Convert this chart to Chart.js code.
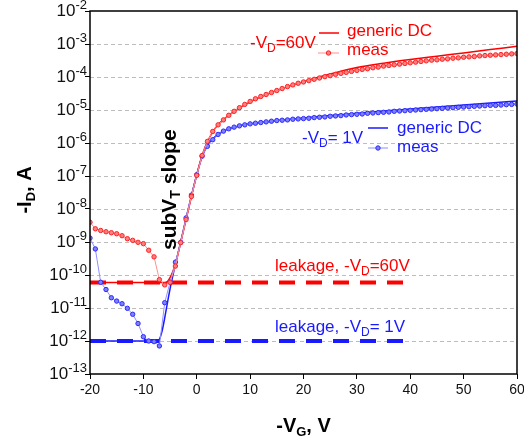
<!DOCTYPE html>
<html>
<head>
<meta charset="utf-8">
<script src="https://cdn.jsdelivr.net/npm/chart.js@4.4.1/dist/chart.umd.min.js"></script>
<style>
  html, body { margin: 0; padding: 0; background: #fff; }
  #wrap { width: 524px; height: 441px; }
</style>
</head>
<body>
<div id="wrap"><canvas id="chart" width="524" height="441"></canvas></div>
<script>
// -V_G of the measured points, volts
const vgMeas = [-20, -19, -18, -17, -16, -15, -14, -13, -12, -11, -10, -9, -8, -7, -6, -5, -4, -3, -2, -1,
  0, 1, 2, 3, 4, 5, 6, 7, 8, 9, 10, 11, 12, 13, 14, 15, 16, 17, 18, 19,
  20, 21, 22, 23, 24, 25, 26, 27, 28, 29, 30, 31, 32, 33, 34, 35, 36, 37, 38, 39,
  40, 41, 42, 43, 44, 45, 46, 47, 48, 49, 50, 51, 52, 53, 54, 55, 56, 57, 58, 59, 60];

// log10(-I_D) measured, -V_D = 60V
const logMeas60 = [-8.40, -8.60, -8.65, -8.69, -8.72, -8.75, -8.81, -8.90, -8.95, -9.01, -9.05, -9.25, -9.45, -10.14, -10.30, -10.22, -9.73, -9.02, -8.32, -7.62,
  -6.98, -6.38, -5.95, -5.65, -5.45, -5.30, -5.16, -5.04, -4.93, -4.83, -4.74, -4.66, -4.59, -4.53, -4.47, -4.41, -4.35, -4.29, -4.24, -4.19,
  -4.15, -4.11, -4.07, -4.03, -3.99, -3.96, -3.92, -3.89, -3.86, -3.83, -3.80, -3.77, -3.75, -3.72, -3.70, -3.67, -3.65, -3.63, -3.61, -3.59,
  -3.57, -3.55, -3.53, -3.51, -3.49, -3.48, -3.46, -3.45, -3.43, -3.42, -3.40, -3.39, -3.38, -3.36, -3.35, -3.34, -3.33, -3.32, -3.31, -3.30, -3.29];

// log10(-I_D) measured, -V_D = 1V
const logMeas1 = [-8.88, -9.21, -10.22, -10.44, -10.69, -10.79, -10.87, -11.01, -11.19, -11.47, -11.87, -12.00, -12.02, -12.15, -10.84, -10.22, -9.61, -9.01, -8.27, -7.58,
  -6.96, -6.40, -6.10, -5.90, -5.74, -5.64, -5.57, -5.52, -5.48, -5.45, -5.42, -5.40, -5.38, -5.36, -5.34, -5.32, -5.31, -5.30, -5.28, -5.27,
  -5.26, -5.25, -5.23, -5.22, -5.21, -5.19, -5.18, -5.17, -5.15, -5.14, -5.13, -5.12, -5.10, -5.09, -5.08, -5.07, -5.06, -5.04, -5.03, -5.02,
  -5.01, -5.00, -4.99, -4.98, -4.97, -4.96, -4.95, -4.94, -4.93, -4.92, -4.91, -4.90, -4.89, -4.88, -4.87, -4.86, -4.86, -4.85, -4.84, -4.83, -4.82];

// generic DC model curves
const vgModel60 = [-20, -6, -5.5, -5, -4.5, -4, -3, -2, -1, 0, 1, 2, 3, 4, 5, 7, 9, 12, 15, 20, 25, 30, 35, 40, 45, 50, 55, 60];
const logModel60 = [-10.23, -10.23, -10.2, -10.08, -9.9, -9.68, -9.0, -8.32, -7.62, -6.96, -6.38, -5.96, -5.66, -5.45, -5.29, -5.04, -4.84, -4.6, -4.41, -4.14, -3.91, -3.71, -3.58, -3.47, -3.37, -3.27, -3.17, -3.07];
const vgModel1 = [-20, -7.5, -7, -6.5, -6, -5.5, -5, -4, -3, -2, -1, 0, 1, 2, 3, 4, 6, 8, 10, 15, 20, 25, 30, 35, 40, 45, 50, 55, 60];
const logModel1 = [-12.0, -12.0, -11.95, -11.7, -11.3, -10.85, -10.42, -9.68, -9.0, -8.28, -7.6, -6.97, -6.42, -6.08, -5.88, -5.74, -5.57, -5.48, -5.42, -5.32, -5.24, -5.17, -5.10, -5.03, -4.97, -4.91, -4.85, -4.79, -4.73];

// leakage levels, drawn over this -V_G span
const leakVg = [-20, 40];
const leak60 = 5.9e-11;
const leak1 = 1e-12;

// axis ticks
const xTicks = [-20, -10, 0, 10, 20, 30, 40, 50, 60];
const yTickExp = [-13, -12, -11, -10, -9, -8, -7, -6, -5, -4, -3, -2];

const FONT = "'Liberation Sans', Arial, sans-serif";
const RED = '#ff0000';
const BLUE = '#1a1aff';

function pts(xs, logs) {
  return xs.map((v, i) => ({ x: v, y: Math.pow(10, logs[i]) }));
}

// draw a run of text pieces: [text, size, bold, dy]
function rich(ctx, parts, x, y, color, align) {
  const f = p => (p[2] ? 'bold ' : '') + p[1] + 'px ' + FONT;
  let w = 0;
  parts.forEach(p => { ctx.font = f(p); w += ctx.measureText(p[0]).width; });
  let cx = align === 'center' ? x - w / 2 : (align === 'right' ? x - w : x);
  ctx.fillStyle = color;
  ctx.textAlign = 'left';
  ctx.textBaseline = 'alphabetic';
  parts.forEach(p => {
    ctx.font = f(p);
    ctx.fillText(p[0], cx, y + (p[3] || 0));
    cx += ctx.measureText(p[0]).width;
  });
}

function legendKey(ctx, x1, x2, y, color, width, dot) {
  ctx.strokeStyle = color;
  ctx.lineWidth = width;
  ctx.beginPath();
  ctx.moveTo(x1, y);
  ctx.lineTo(x2, y);
  ctx.stroke();
  if (dot) {
    ctx.beginPath();
    ctx.arc((x1 + x2) / 2, y, 2.2, 0, Math.PI * 2);
    ctx.fillStyle = dot[1];
    ctx.fill();
    ctx.strokeStyle = dot[0];
    ctx.lineWidth = 1;
    ctx.stroke();
  }
}

const decor = {
  id: 'decor',
  beforeDatasetsDraw(chart) {
    // dashed decade grid
    const ctx = chart.ctx;
    const a = chart.chartArea;
    const ys = chart.scales.y;
    ctx.save();
    ctx.strokeStyle = '#bdbdbd';
    ctx.lineWidth = 1;
    ctx.setLineDash([4, 3]);
    yTickExp.slice(1, -1).forEach(e => {
      const py = Math.round(ys.getPixelForValue(Math.pow(10, e))) + 0.5;
      ctx.beginPath();
      ctx.moveTo(a.left, py);
      ctx.lineTo(a.right, py);
      ctx.stroke();
    });
    ctx.restore();
  },
  afterDraw(chart) {
    const ctx = chart.ctx;
    const a = chart.chartArea;
    const ys = chart.scales.y;
    ctx.save();

    // plot frame
    ctx.strokeStyle = '#000';
    ctx.lineWidth = 1.5;
    ctx.strokeRect(a.left, a.top, a.right - a.left, a.bottom - a.top);

    // y tick labels 10^n
    yTickExp.forEach(e => {
      const py = ys.getPixelForValue(Math.pow(10, e));
      rich(ctx, [['10', 17, false, 5], [String(e), 13, false, -2]], a.left - 3, py, '#111', 'right');
    });

    // axis titles
    rich(ctx, [['-V', 20, true], ['G', 13, true, 4], [', V', 20, true]], (a.left + a.right) / 2, 432, '#000', 'center');
    ctx.save();
    ctx.translate(31, 190);
    ctx.rotate(-Math.PI / 2);
    rich(ctx, [['-I', 20, true], ['D', 13, true, 4], [', A', 20, true]], 0, 0, '#000', 'center');
    ctx.restore();

    // subthreshold slope label
    ctx.save();
    ctx.translate(176, 250);
    ctx.rotate(-Math.PI / 2);
    rich(ctx, [['subV', 21, true], ['T', 14, true, 4], [' slope', 21, true]], 0, 0, '#000', 'left');
    ctx.restore();

    // -VD = 60V group
    rich(ctx, [['-V', 17], ['D', 12, false, 4], ['=60V', 17]], 250, 48, RED, 'left');
    legendKey(ctx, 319, 339, 33, RED, 1.5);
    legendKey(ctx, 318, 339, 53, '#ff8f8f', 1, ['#ff2020', '#ff8080']);
    rich(ctx, [['generic DC', 17]], 347, 36, RED, 'left');
    rich(ctx, [['meas', 17]], 347, 55, RED, 'left');

    // -VD = 1V group
    rich(ctx, [['-V', 17], ['D', 12, false, 4], ['= 1V', 17]], 302, 143, BLUE, 'left');
    legendKey(ctx, 368, 388, 128, BLUE, 1.5);
    legendKey(ctx, 368, 388, 148, '#8f8fff', 1, ['#2a2aff', '#8080ff']);
    rich(ctx, [['generic DC', 17]], 397, 133, BLUE, 'left');
    rich(ctx, [['meas', 17]], 397, 152, BLUE, 'left');

    // leakage labels
    rich(ctx, [['leakage, -V', 17], ['D', 12, false, 4], ['=60V', 17]], 275, 271, RED, 'left');
    rich(ctx, [['leakage, -V', 17], ['D', 12, false, 4], ['= 1V', 17]], 275, 332, BLUE, 'left');

    ctx.restore();
  }
};

new Chart(document.getElementById('chart'), {
  type: 'line',
  data: {
    datasets: [
      {
        data: pts(vgMeas, logMeas60),
        borderColor: '#ff8f8f', borderWidth: 1,
        pointRadius: 2.2, pointBorderWidth: 1,
        pointBorderColor: '#ff2020', pointBackgroundColor: '#ff8080',
        order: 1
      },
      {
        data: pts(vgMeas, logMeas1),
        borderColor: '#8f8fff', borderWidth: 1,
        pointRadius: 2.2, pointBorderWidth: 1,
        pointBorderColor: '#2a2aff', pointBackgroundColor: '#8080ff',
        order: 1
      },
      {
        data: pts(vgModel60, logModel60),
        borderColor: RED, borderWidth: 1.5, pointRadius: 0,
        cubicInterpolationMode: 'monotone', order: 2
      },
      {
        data: pts(vgModel1, logModel1),
        borderColor: BLUE, borderWidth: 1.5, pointRadius: 0,
        cubicInterpolationMode: 'monotone', order: 2
      },
      {
        data: leakVg.map(v => ({ x: v, y: leak60 })),
        borderColor: RED, borderWidth: 4, borderDash: [16, 11],
        pointRadius: 0, order: 3
      },
      {
        data: leakVg.map(v => ({ x: v, y: leak1 })),
        borderColor: BLUE, borderWidth: 4, borderDash: [16, 11],
        pointRadius: 0, order: 3
      }
    ]
  },
  options: {
    responsive: false,
    animation: false,
    devicePixelRatio: 1,
    layout: { padding: { top: 11, right: 7, left: 0, bottom: 0 } },
    plugins: { legend: { display: false }, tooltip: { enabled: false } },
    scales: {
      x: {
        type: 'linear', min: -20, max: 60,
        afterBuildTicks: s => { s.ticks = xTicks.map(v => ({ value: v })); },
        afterFit: s => { s.height = 67; s.paddingLeft = 0; s.paddingRight = 0; },
        ticks: { font: { family: FONT, size: 14 }, color: '#111', padding: 3, maxRotation: 0 },
        grid: { drawOnChartArea: false, tickLength: 5, tickColor: '#000', tickWidth: 1 },
        border: { display: false }
      },
      y: {
        type: 'logarithmic', min: 1e-13, max: 1e-2,
        afterBuildTicks: s => { s.ticks = yTickExp.map(e => ({ value: Math.pow(10, e) })); },
        afterFit: s => { s.width = 90; },
        ticks: { display: false },
        grid: { drawOnChartArea: false, tickLength: 5, tickColor: '#000', tickWidth: 1 },
        border: { display: false }
      }
    }
  },
  plugins: [decor]
});
</script>
</body>
</html>
